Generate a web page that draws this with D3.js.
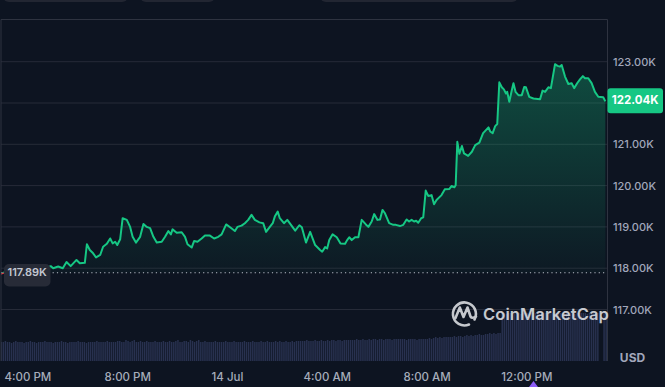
<!DOCTYPE html>
<html><head><meta charset="utf-8">
<script src="https://cdn.jsdelivr.net/npm/d3@7"></script>
<style>
html,body{margin:0;padding:0;background:#0d1421;}
svg{display:block;font-family:Inter,"Noto Sans",sans-serif;}
</style></head>
<body>
<svg id="c" width="665" height="387"></svg>
<script>
// ---- data ----
const openPrice = 117.89;
const lastPrice = 122.04;
const priceTicks = [117, 118, 119, 120, 121, 122, 123];
const priceTickLabels = [117, 118, 119, 120, 121, 123]; // 122 is hidden behind the price tag
const times = ["13 14:54","13 15:05","13 15:30","13 16:06","13 16:42","13 16:56","13 17:02","13 17:14","13 17:25","13 17:34","13 17:44","13 17:58","13 18:06","13 18:18","13 18:23","13 18:30","13 18:38","13 18:45","13 18:55","13 19:02","13 19:11","13 19:19","13 19:25","13 19:31","13 19:36","13 19:43","13 19:49","13 19:59","13 20:07","13 20:13","13 20:21","13 20:31","13 20:39","13 20:47","13 20:55","13 21:03","13 21:11","13 21:23","13 21:31","13 21:39","13 21:45","13 21:49","13 21:59","13 22:11","13 22:19","13 22:25","13 22:35","13 22:41","13 22:49","13 22:59","13 23:07","13 23:19","13 23:29","13 23:39","13 23:47","13 23:58","14 00:09","14 00:19","14 00:25","14 00:35","14 00:43","14 00:51","14 00:59","14 01:07","14 01:18","14 01:27","14 01:34","14 01:43","14 01:50","14 01:55","14 02:02","14 02:07","14 02:17","14 02:25","14 02:33","14 02:44","14 02:54","14 03:00","14 03:10","14 03:20","14 03:32","14 03:44","14 03:49","14 03:56","14 04:01","14 04:06","14 04:14","14 04:24","14 04:33","14 04:44","14 04:49","14 04:54","14 05:00","14 05:08","14 05:16","14 05:24","14 05:34","14 05:40","14 05:48","14 05:54","14 06:02","14 06:08","14 06:14","14 06:20","14 06:30","14 06:40","14 06:46","14 06:56","14 07:04","14 07:12","14 07:18","14 07:24","14 07:30","14 07:35","14 07:40","14 07:47","14 07:52","14 07:58","14 08:04","14 08:12","14 08:18","14 08:24","14 08:36","14 08:44","14 08:55","14 09:00","14 09:07","14 09:10","14 09:14","14 09:19","14 09:25","14 09:30","14 09:40","14 09:49","14 09:57","14 10:07","14 10:16","14 10:29","14 10:33","14 10:39","14 10:45","14 10:50","14 10:55","14 11:01","14 11:06","14 11:11","14 11:14","14 11:19","14 11:25","14 11:29","14 11:34","14 11:41","14 11:49","14 11:55","14 11:59","14 12:07","14 12:17","14 12:33","14 12:39","14 12:45","14 12:53","14 12:59","14 13:09","14 13:15","14 13:21","14 13:25","14 13:33","14 13:41","14 13:49","14 13:55","14 14:03","14 14:09","14 14:16","14 14:21","14 14:29","14 14:37","14 14:45","14 14:53","14 15:05","14 15:10"];
const prices = [117.86,117.90,117.93,117.96,118.00,118.05,118.00,118.04,118.00,118.15,118.05,118.20,118.12,118.13,118.58,118.44,118.36,118.26,118.32,118.52,118.59,118.72,118.60,118.64,118.56,118.70,119.21,119.17,119.00,118.76,118.62,118.76,119.07,119.00,118.97,118.76,118.62,118.64,118.76,118.90,118.82,118.94,118.86,118.87,118.76,118.58,118.50,118.66,118.64,118.72,118.79,118.79,118.72,118.76,118.82,119.06,118.98,118.90,119.00,119.03,119.09,119.17,119.29,119.17,119.11,119.09,118.88,119.00,119.09,119.25,119.37,119.21,119.09,119.17,119.06,118.91,119.04,118.99,118.62,118.88,118.56,118.44,118.40,118.51,118.48,118.68,118.82,118.75,118.60,118.59,118.68,118.75,118.68,118.75,118.75,119.17,119.06,119.00,119.13,119.31,119.17,119.18,119.41,119.33,119.09,119.05,119.05,119.02,119.05,119.18,119.13,119.17,119.13,119.15,119.10,119.21,119.23,119.88,119.75,119.77,119.55,119.65,119.77,119.91,119.92,119.99,119.96,120.01,121.06,120.77,120.96,120.78,120.72,120.82,120.98,121.04,121.27,121.41,121.31,121.27,121.44,121.49,122.50,122.38,122.33,122.23,122.27,122.03,122.31,122.48,122.27,122.19,122.19,122.39,122.38,122.15,122.11,122.09,122.30,122.27,122.38,122.36,122.94,122.90,122.88,122.92,122.64,122.46,122.48,122.36,122.49,122.57,122.65,122.60,122.60,122.48,122.27,122.15,122.14,122.04];
// 5-minute volume bars starting at 13 14:54
const volumes = [
19,19,20,19,19,18,19,20,19,19,19,18,19,19,20,19,19,18,19,19,19,20,19,19,
19,18,19,19,19,20,19,19,18,19,19,19,19,20,19,19,19,18,19,19,19,19,20,19,
19,19,19,20,19,19,19,19,20,20,19,19,21,20,19,20,21,19,19,20,19,19,20,19,
19,19,20,19,19,19,20,19,19,20,19,19,20,21,19,19,20,20,19,21,20,19,20,21,
19,19,20,19,19,19,19,20,19,19,19,19,20,19,19,19,20,19,19,19,19,20,19,19,
19,20,19,19,19,20,19,19,20,19,19,19,20,19,20,19,19,20,19,19,20,19,20,20,
20,20,20,21,20,20,20,21,20,20,21,20,20,21,20,21,21,20,21,21,20,21,21,21,
21,21,21,22,21,21,22,21,21,22,21,22,22,21,22,22,21,22,22,22,21,22,22,22,
22,22,22,21,22,22,22,22,21,22,22,22,22,22,23,22,23,24,23,24,23,24,24,24,
24,24,25,24,25,25,24,25,26,25,26,25,26,26,27,26,26,27,27,28,27,28,27,28,
28,48,48,47,48,48,47,48,48,48,47,48,48,48,47,48,48,48,48,47,48,48,48,47,
48,48,47,48,48,48,48,47,48,48,48,48,47,48,48,48,48,48,47,48,48,48,48,48,0,0,49,49];
const volStart = "13 14:54";
const domainStart = "13 14:54", domainEnd = "14 15:14";

// ---- setup ----
const parse = s => d3.timeParse("%Y-%m-%d %H:%M")("2025-07-" + s);
const svg = d3.select("#c");
const L = 1, R = 607.5, T = 19.5, B = 361;
const x = d3.scaleTime().domain([parse(domainStart), parse(domainEnd)]).range([0, 607]);
const y = d3.scaleLinear().domain([117, 123]).range([309.5, 61.7]);
const yVol = d3.scaleLinear().domain([0, 50]).range([B, B - 50]);
const data = times.map((t, i) => ({t: parse(t), p: prices[i]}));

// top (cut-off) controls
[[3,125],[140,75],[320,198]].forEach(([bx,bw]) =>
  svg.append("rect").attr("x",bx).attr("y",-12).attr("width",bw).attr("height",14).attr("rx",6).attr("fill","#222632"));

const defs = svg.append("defs");
const grad = defs.append("linearGradient").attr("id","fillg").attr("gradientUnits","userSpaceOnUse")
  .attr("x1",0).attr("x2",0).attr("y1",y(123)).attr("y2",y(openPrice));
grad.append("stop").attr("offset",0).attr("stop-color","#16c784").attr("stop-opacity",0.32);
grad.append("stop").attr("offset",1).attr("stop-color","#16c784").attr("stop-opacity",0.03);
defs.append("clipPath").attr("id","plot").append("rect").attr("x",L).attr("y",T).attr("width",R-L).attr("height",B-T);
defs.append("clipPath").attr("id","above").append("rect").attr("x",L).attr("y",T).attr("width",R-L).attr("height",y(openPrice)-T);
defs.append("clipPath").attr("id","below").append("rect").attr("x",L).attr("y",y(openPrice)).attr("width",R-L).attr("height",B-y(openPrice));

// gridlines
svg.append("g").selectAll("line").data(priceTicks).join("line")
  .attr("x1",L).attr("x2",R).attr("y1",d=>y(d)).attr("y2",d=>y(d))
  .attr("stroke","#262b38").attr("stroke-width",1);

// volume
const v0 = parse(volStart);
const step = x(d3.timeMinute.offset(v0,5)) - x(v0);
svg.append("g").attr("clip-path","url(#plot)").selectAll("rect").data(volumes).join("rect")
  .attr("x",(d,i)=>x(d3.timeMinute.offset(v0,5*i)) + 0.5)
  .attr("width",step-0.6)
  .attr("y",d=>yVol(d)).attr("height",d=>B-yVol(d))
  .attr("fill","#28314f");

// area + line
const area = d3.area().x(d=>x(d.t)).y0(y(openPrice)).y1(d=>y(d.p)).curve(d3.curveLinear);
const line = d3.line().x(d=>x(d.t)).y(d=>y(d.p)).curve(d3.curveLinear);
const pg = svg.append("g").attr("clip-path","url(#plot)");
pg.append("path").datum(data).attr("d",area).attr("fill","url(#fillg)");
pg.append("path").datum(data).attr("d",line).attr("fill","none").attr("stroke","#16c784")
  .attr("stroke-width",2).attr("stroke-linejoin","round").attr("clip-path","url(#above)");
svg.append("g").attr("clip-path","url(#below)").append("path").datum(data).attr("d",line)
  .attr("fill","none").attr("stroke","#ea3943").attr("stroke-width",2);

// open price dotted line
svg.append("line").attr("x1",L).attr("x2",R).attr("y1",y(openPrice)).attr("y2",y(openPrice))
  .attr("stroke","#b8bdc8").attr("stroke-width",1.1).attr("stroke-dasharray","1.2 3.1");

// frame
svg.append("path").attr("d",`M${L},${B}V${T}H${R}V${B}`).attr("fill","none").attr("stroke","#2e3340").attr("stroke-width",1);

// watermark
const wm = svg.append("g").attr("opacity",0.85);
wm.append("path").attr("d","M474.5,319.5 A11.5,11.5 0 1 0 469,324.5")
  .attr("fill","none").attr("stroke","#e6e8ec").attr("stroke-width",2.6).attr("stroke-linecap","round");
wm.append("path").attr("d","M455.5,318 L459.8,307.5 L463.5,317 L467.5,307.5 L470.5,316.5 Q472,319 476,316.5")
  .attr("fill","none").attr("stroke","#e6e8ec").attr("stroke-width",2.6).attr("stroke-linecap","round").attr("stroke-linejoin","round");
wm.append("text").attr("x",483).attr("y",319.5).attr("font-size",16.5).attr("font-weight",600)
  .attr("fill","#e6e8ec").attr("letter-spacing",0.1).text("CoinMarketCap");

// open price label
svg.append("rect").attr("x",4).attr("y",264).attr("width",46.5).attr("height",22.5).attr("rx",5).attr("fill","#272b37");
svg.append("text").attr("x",27.2).attr("y",y(openPrice)+0.5).attr("text-anchor","middle").attr("dominant-baseline","middle")
  .attr("font-size",11).attr("font-weight",600).attr("fill","#c3c7d1").text(d3.format(".2f")(openPrice)+"K");

// right axis
const ya = svg.append("g").attr("transform","translate(613,0)")
  .call(d3.axisRight(y).tickValues(priceTickLabels).tickSize(0).tickPadding(0).tickFormat(d=>d3.format(".2f")(d)+"K"));
ya.select(".domain").remove();
ya.selectAll("text").attr("font-size",11).attr("font-family","Inter").attr("fill","#a1a7bb").attr("font-weight",500);

// current price tag
svg.append("rect").attr("x",607.5).attr("y",y(lastPrice)-13).attr("width",55.5).attr("height",25).attr("rx",3).attr("fill","#16c784");
svg.append("text").attr("x",635.2).attr("y",y(lastPrice)).attr("text-anchor","middle").attr("dominant-baseline","middle")
  .attr("font-size",11.5).attr("font-weight",700).attr("fill","#ffffff").text(d3.format(".2f")(lastPrice)+"K");

// USD
svg.append("text").attr("x",632.5).attr("y",358.7).attr("text-anchor","middle").attr("dominant-baseline","middle")
  .attr("font-size",12).attr("font-weight",700).attr("fill","#a1a7bb").text("USD");

// bottom axis
const fmt = d => d.getHours() === 0 ? d3.timeFormat("%-d %b")(d) : d3.timeFormat("%-I:%M %p")(d);
const xa = svg.append("g").attr("transform","translate(0,372.8)")
  .call(d3.axisBottom(x).ticks(d3.timeHour.every(4)).tickSize(0).tickPadding(0).tickFormat(fmt));
xa.select(".domain").remove();
xa.selectAll("text").attr("font-size",11.5).attr("font-family","Inter").attr("fill","#a6adbb").attr("font-weight",500);

// current time marker
svg.append("path").attr("d","M533.5,381 L538,387 L529,387 Z").attr("fill","#8b5cf6");
</script>
</body></html>
